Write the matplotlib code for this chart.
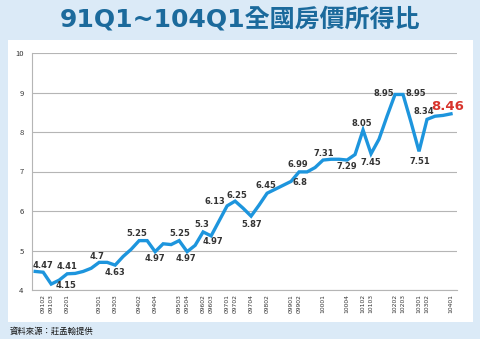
import matplotlib
matplotlib.use("Agg")
import matplotlib.pyplot as plt
from matplotlib.patches import Rectangle

plt.rcParams['font.family'] = ['Noto Sans CJK TC', 'DejaVu Sans']

# quarterly ratio, 91Q1 .. 104Q1
ratio = [4.47, 4.45, 4.15, 4.25, 4.41, 4.42, 4.47, 4.55, 4.70, 4.70,
         4.63, 4.85, 5.03, 5.25, 5.25, 4.97, 5.17, 5.15, 5.25, 4.97,
         5.13, 5.47, 5.37, 5.75, 6.13, 6.25, 6.07, 5.87, 6.15, 6.45,
         6.55, 6.65, 6.75, 6.99, 6.99, 7.10, 7.29, 7.31, 7.31, 7.29,
         7.43, 8.05, 7.45, 7.82, 8.40, 8.95, 8.95, 8.25, 7.51, 8.32,
         8.40, 8.42, 8.46]
years = [91 + i // 4 for i in range(len(ratio))]
quarters = [i % 4 + 1 for i in range(len(ratio))]

# points that carry a value label / tick
marked = [1, 2, 4, 8, 10, 13, 15, 18, 19, 21, 22, 24, 25, 27, 29, 32, 33,
          36, 39, 41, 42, 45, 46, 48, 49, 52]
marked_text = ['4.47', '4.15', '4.41', '4.7', '4.63', '5.25', '4.97', '5.25',
               '4.97', '5.3', '4.97', '6.13', '6.25', '5.87', '6.45', '6.8',
               '6.99', '7.31', '7.29', '8.05', '7.45', '8.95', '8.95', '7.51',
               '8.34', '8.46']
# label offsets in pixels
offsets = [(0, 7), (15, -1), (0, 7), (-2, 6), (0, -7), (-2, 7), (0, -7),
           (1, 7), (-1, -7), (-1, 7), (2, -6), (-12, 4), (2, 6), (1, -8),
           (-1, 8), (9, -1), (-1, 7), (1, 7), (0, -6), (-1, 7), (0, -9),
           (-11, 1), (13, 1), (1, -10), (-3, 8), (-3, 7)]

fig = plt.figure(figsize=(4.81, 3.39), dpi=100)
fig.patch.set_facecolor('#dbeaf7')
fig.patches.append(Rectangle((8 / 481, 1 - 322 / 339), 465 / 481, 282 / 339,
                             transform=fig.transFigure, facecolor='white',
                             edgecolor='none', zorder=-5))

ax = fig.add_axes([32 / 481, 1 - 290 / 339, 425 / 481, 237 / 339])
ax.set_zorder(2)
ax.set_facecolor('none')
x = list(range(len(ratio)))
ax.plot(x, ratio, color='#1d95dd', lw=2.4, solid_joinstyle='miter', zorder=3)

for i, txt, (dx, dy) in zip(marked, marked_text, offsets):
    last = i == len(ratio) - 1
    ax.annotate(txt, (i, ratio[i]), xytext=(dx, dy), textcoords='offset pixels',
                ha='center', va='center', family='DejaVu Sans',
                fontsize=9.5 if last else 6, fontweight='bold',
                color='#d8342c' if last else '#333333', zorder=4)

ax.set_xlim(-0.4, 52.75)
ax.set_ylim(4, 10)
ax.set_yticks(range(4, 11))
ax.yaxis.grid(True, color='#b5b5b5', lw=0.8)
ax.set_axisbelow(True)
ax.set_xticks(marked)
ax.set_xticklabels(['%03d0%d' % (years[i], quarters[i]) for i in marked],
                   rotation=90, fontsize=4.3, family='DejaVu Sans', color='#333333')
ax.tick_params(axis='x', length=0, pad=3)
ax.tick_params(axis='y', length=0, pad=6, labelsize=5.5, labelcolor='#333333')
for s in ['top', 'right']:
    ax.spines[s].set_visible(False)
for s in ['left', 'bottom']:
    ax.spines[s].set_color('#b5b5b5')
    ax.spines[s].set_linewidth(0.8)

fig.text(0.5, 1 - 19 / 339, '91Q1~104Q1全國房價所得比', ha='center', va='center',
         fontsize=18, fontweight='bold', color='#1b6a9c',
         family=['DejaVu Sans', 'Noto Sans CJK TC'])
fig.text(10 / 481, 1 - 331 / 339, '資料來源：莊孟翰提供', ha='left', va='center',
         fontsize=6, color='#111111')

fig.savefig('out.png', dpi=100, facecolor=fig.get_facecolor())
